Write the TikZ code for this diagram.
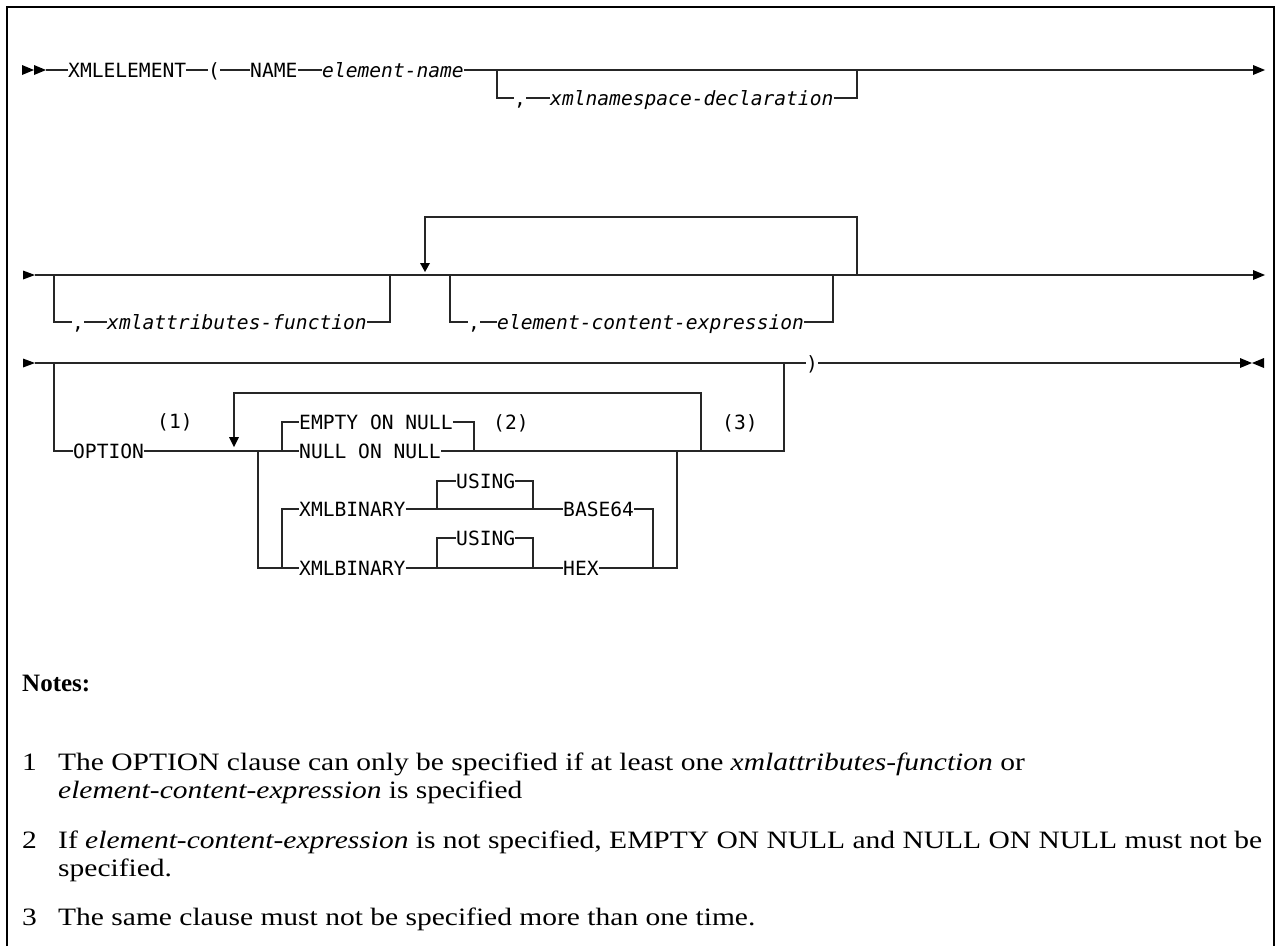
\documentclass[tikz,border=0pt]{standalone}
\usepackage{fontspec}
\setmainfont{Liberation Serif}
\newfontfamily\notefont[FakeStretch=1.18]{Liberation Serif}
\newfontfamily\railfont{DejaVu Sans Mono}
\usetikzlibrary{calc}
\begin{document}
\begin{tikzpicture}[x=1pt,y=-1pt,
  rl/.style={line width=1.3pt,draw=black!85},
  kw/.style={font=\railfont\fontsize{19.6}{23}\selectfont,inner sep=0pt,anchor=base west,text=black},
  var/.style={kw,font=\railfont\itshape\fontsize{19.6}{23}\selectfont},
  notetxt/.style={font=\notefont\fontsize{25}{30}\selectfont,inner sep=0pt,anchor=base west},
  tipfill/.style={fill=black}]
\useasboundingbox (0,0) rectangle (1281,946);
% frame
\draw[line width=1.4pt] (7,946) -- (7,7) -- (1274,7) -- (1274,946);

% ---------------- Row 1 ----------------
\coordinate (s1) at (46,70);
\fill[tipfill] (22,65) -- (34,70) -- (22,75) -- cycle;
\fill[tipfill] (34,65) -- (46,70) -- (34,75) -- cycle;
\node[kw] (xmlel) at (68,77) {XMLELEMENT};
\node[kw] (lp) at (208,77) {(};
\node[kw] (name) at (250,77) {NAME};
\node[var] (ename) at (322,77) {element-name};
\node[kw] (c1) at (514,105) {,};
\node[var] (nsdecl) at (550,105) {xmlnamespace-declaration};
\coordinate (e1) at (1254,70);
\draw[rl] (s1) -- (xmlel.west |- s1);
\draw[rl] (xmlel.east |- s1) -- (lp.west |- s1);
\draw[rl] (lp.east |- s1) -- (name.west |- s1);
\draw[rl] (name.east |- s1) -- (ename.west |- s1);
\draw[rl] (ename.east |- s1) -- (e1);
\fill[tipfill] (1253,65) -- (1265,70) -- (1253,75) -- cycle;
\draw[rl] (497,70) -- (497,98) -- (c1.west |- 0,98);
\draw[rl] (c1.east |- 0,98) -- (nsdecl.west |- 0,98);
\draw[rl] (nsdecl.east |- 0,98) -- (857,98) -- (857,70);

% ---------------- Row 2 ----------------
\coordinate (s2) at (35,275);
\coordinate (e2) at (1254,275);
\fill[tipfill] (23,270.5) -- (35,275) -- (23,279.5) -- cycle;
\draw[rl] (s2) -- (e2);
\fill[tipfill] (1253,270) -- (1265,275) -- (1253,280) -- cycle;
\node[kw] (c2) at (72,329) {,};
\node[var] (xattr) at (107,329) {xmlattributes-function};
\draw[rl] (54,275) -- (54,322) -- (c2.west |- 0,322);
\draw[rl] (c2.east |- 0,322) -- (xattr.west |- 0,322);
\draw[rl] (xattr.east |- 0,322) -- (390,322) -- (390,275);
\draw[rl] (857,275) -- (857,217) -- (425,217) -- (425,264);
\fill[tipfill] (420,263) -- (430,263) -- (425,272) -- cycle;
\node[kw] (c3) at (468,329) {,};
\node[var] (ecexpr) at (497,329) {element-content-expression};
\draw[rl] (450,275) -- (450,322) -- (c3.west |- 0,322);
\draw[rl] (c3.east |- 0,322) -- (ecexpr.west |- 0,322);
\draw[rl] (ecexpr.east |- 0,322) -- (833,322) -- (833,275);

% ---------------- Row 3 ----------------
\coordinate (s3) at (35,363);
\fill[tipfill] (23,358.5) -- (35,363) -- (23,367.5) -- cycle;
\node[kw] (rp) at (806,370) {)};
\draw[rl] (s3) -- (rp.west |- s3);
\draw[rl] (rp.east |- s3) -- (1240,363);
\fill[tipfill] (1240,358) -- (1252,363) -- (1240,368) -- cycle;
\fill[tipfill] (1264,358) -- (1252,363) -- (1264,368) -- cycle;

\node[kw] (opt) at (73,458) {OPTION};
\node[kw] (n1) at (157,428) {(1)};
\draw[rl] (54,363) -- (54,451) -- (opt.west |- 0,451);
\node[kw] (empty) at (299,429) {EMPTY ON NULL};
\node[kw] (nullon) at (299,458) {NULL ON NULL};
\node[kw] (n2) at (493,429) {(2)};
\node[kw] (n3) at (722,429) {(3)};
\draw[rl] (opt.east |- 0,451) -- (nullon.west |- 0,451);
\draw[rl] (282,451) -- (282,422) -- (empty.west |- 0,422);
\draw[rl] (empty.east |- 0,422) -- (474,422) -- (474,451);
\draw[rl] (nullon.east |- 0,451) -- (784,451) -- (784,363);
% repeat loop
\draw[rl] (701,451) -- (701,393) -- (234,393) -- (234,438);
\fill[tipfill] (229,437) -- (239,437) -- (234,447) -- cycle;

% XMLBINARY rows
\node[kw] (xb1) at (299,516) {XMLBINARY};
\node[kw] (using1) at (456,488) {USING};
\node[kw] (b64) at (563,516) {BASE64};
\node[kw] (xb2) at (299,575) {XMLBINARY};
\node[kw] (using2) at (456,545) {USING};
\node[kw] (hex) at (563,575) {HEX};
\draw[rl] (258,451) -- (258,568) -- (xb2.west |- 0,568);
\draw[rl] (282,568) -- (282,509) -- (xb1.west |- 0,509);
\draw[rl] (xb1.east |- 0,509) -- (b64.west |- 0,509);
\draw[rl] (437,509) -- (437,481) -- (using1.west |- 0,481);
\draw[rl] (using1.east |- 0,481) -- (533,481) -- (533,509);
\draw[rl] (b64.east |- 0,509) -- (653,509) -- (653,568);
\draw[rl] (xb2.east |- 0,568) -- (hex.west |- 0,568);
\draw[rl] (437,568) -- (437,538) -- (using2.west |- 0,538);
\draw[rl] (using2.east |- 0,538) -- (533,538) -- (533,568);
\draw[rl] (hex.east |- 0,568) -- (677,568) -- (677,451);

% ---------------- Notes ----------------
\node[notetxt,font=\bfseries\fontsize{25}{30}\selectfont] (notes) at (22,691) {Notes:};
\node[notetxt] (k1) at (22,770) {1};
\node[notetxt] (t1) at (58,770) {The OPTION clause can only be specified if at least one \textit{xmlattributes-function} or};
\node[notetxt] (t1b) at (58,798) {\textit{element-content-expression} is specified};
\node[notetxt] (k2) at (22,848) {2};
\node[notetxt] (t2) at (58,848) {If \textit{element-content-expression} is not specified, EMPTY ON NULL and NULL ON NULL must not be};
\node[notetxt] (t2b) at (58,876) {specified.};
\node[notetxt] (k3) at (22,925) {3};
\node[notetxt] (t3) at (58,925) {The same clause must not be specified more than one time.};
\end{tikzpicture}
\end{document}
